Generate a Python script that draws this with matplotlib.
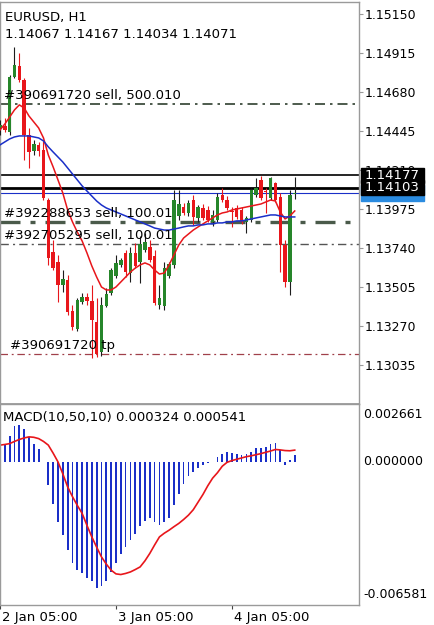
import numpy as np
import matplotlib
matplotlib.use("Agg")
import matplotlib.pyplot as plt
import matplotlib.transforms as mtransforms
from matplotlib.patches import Rectangle

# --- data (EURUSD H1) ---
symbol = "EURUSD, H1"
ohlc_text = "1.14067 1.14167 1.14034 1.14071"
macd_text = "MACD(10,50,10) 0.000324 0.000541"

opens = [1.14463, 1.14475, 1.14439, 1.14770, 1.14837, 1.14752, 1.14421, 1.14325, 1.14361, 1.14331,
         1.14029, 1.13716, 1.13656, 1.13517, 1.13547, 1.13360, 1.13252, 1.13415, 1.13445, 1.13421,
         1.13294, 1.13113, 1.13390, 1.13469, 1.13571, 1.13638, 1.13710, 1.13589, 1.13710, 1.13656,
         1.13728, 1.13746, 1.13692, 1.13396, 1.13390, 1.13571, 1.13638, 1.13933, 1.13987, 1.13951,
         1.14029, 1.13921, 1.13981, 1.13969, 1.13897, 1.13909, 1.14059, 1.14029, 1.13963, 1.13981,
         1.13969, 1.13897, 1.13909, 1.14059, 1.14150, 1.14083, 1.14041, 1.14132, 1.14047, 1.13758,
         1.13535, 1.14067]
highs = [1.14511, 1.14523, 1.14782, 1.14951, 1.14915, 1.14764, 1.14463, 1.14391, 1.14379, 1.14391,
         1.14041, 1.13788, 1.13698, 1.13607, 1.13577, 1.13396, 1.13439, 1.13469, 1.13469, 1.13517,
         1.13439, 1.13445, 1.13499, 1.13619, 1.13698, 1.13680, 1.13728, 1.13746, 1.13770, 1.13812,
         1.13830, 1.13788, 1.13728, 1.13517, 1.13656, 1.13656, 1.14089, 1.14089, 1.14011, 1.14029,
         1.14059, 1.13999, 1.14005, 1.13993, 1.13969, 1.14071, 1.14102, 1.14053, 1.13987, 1.13999,
         1.13987, 1.13933, 1.14102, 1.14162, 1.14174, 1.14102, 1.14168, 1.14138, 1.14071, 1.13788,
         1.14089, 1.14167]
lows = [1.14421, 1.14439, 1.14421, 1.14764, 1.14740, 1.14270, 1.14222, 1.14300, 1.14294, 1.14029,
        1.13638, 1.13607, 1.13415, 1.13475, 1.13336, 1.13246, 1.13240, 1.13403, 1.13396, 1.13077,
        1.13083, 1.13089, 1.13384, 1.13457, 1.13559, 1.13625, 1.13565, 1.13535, 1.13619, 1.13529,
        1.13716, 1.13656, 1.13396, 1.13372, 1.13366, 1.13559, 1.13619, 1.13909, 1.13939, 1.13933,
        1.13879, 1.13897, 1.13909, 1.13897, 1.13873, 1.13897, 1.14017, 1.13969, 1.13867, 1.13915,
        1.13885, 1.13830, 1.13897, 1.14047, 1.14029, 1.13951, 1.14029, 1.14017, 1.13595, 1.13505,
        1.13457, 1.14034]
closes = [1.14481, 1.14451, 1.14770, 1.14843, 1.14752, 1.14421, 1.14318, 1.14367, 1.14325, 1.14041,
          1.13680, 1.13619, 1.13517, 1.13553, 1.13354, 1.13264, 1.13427, 1.13445, 1.13421, 1.13306,
          1.13101, 1.13396, 1.13463, 1.13607, 1.13650, 1.13668, 1.13595, 1.13710, 1.13632, 1.13764,
          1.13776, 1.13668, 1.13409, 1.13439, 1.13619, 1.13644, 1.14029, 1.14005, 1.13951, 1.14011,
          1.13927, 1.13987, 1.13921, 1.13909, 1.13939, 1.14047, 1.14029, 1.13981, 1.13957, 1.13927,
          1.13897, 1.13921, 1.14089, 1.14102, 1.14041, 1.14077, 1.14162, 1.14029, 1.13758, 1.13535,
          1.14059, 1.14071]

ma_fast = [1.14451, 1.14487, 1.14529, 1.14572, 1.14602, 1.14584, 1.14535, 1.14499, 1.14463, 1.14403,
           1.14300, 1.14228, 1.14150, 1.14071, 1.13969, 1.13897, 1.13836, 1.13782, 1.13710, 1.13632,
           1.13565, 1.13505, 1.13487, 1.13487, 1.13505, 1.13535, 1.13565, 1.13595, 1.13619, 1.13638,
           1.13650, 1.13638, 1.13607, 1.13583, 1.13589, 1.13638, 1.13698, 1.13758, 1.13800, 1.13824,
           1.13848, 1.13867, 1.13885, 1.13903, 1.13921, 1.13939, 1.13951, 1.13957, 1.13969, 1.13975,
           1.13981, 1.13987, 1.13993, 1.13999, 1.14005, 1.14017, 1.14029, 1.14023, 1.13957, 1.13915,
           1.13933, 1.13963]
ma_slow = [1.14361, 1.14379, 1.14397, 1.14409, 1.14415, 1.14415, 1.14415, 1.14409, 1.14403, 1.14385,
           1.14349, 1.14318, 1.14288, 1.14258, 1.14222, 1.14186, 1.14150, 1.14114, 1.14083, 1.14053,
           1.14023, 1.13999, 1.13981, 1.13969, 1.13957, 1.13945, 1.13933, 1.13921, 1.13909, 1.13897,
           1.13885, 1.13873, 1.13860, 1.13854, 1.13848, 1.13848, 1.13854, 1.13860, 1.13867, 1.13873,
           1.13873, 1.13879, 1.13879, 1.13885, 1.13885, 1.13891, 1.13891, 1.13897, 1.13897, 1.13903,
           1.13903, 1.13909, 1.13915, 1.13921, 1.13927, 1.13933, 1.13939, 1.13939, 1.13933, 1.13927,
           1.13927, 1.13927]

macd_hist = [0.00060, 0.00077, 0.00118, 0.00164, 0.00170, 0.00152, 0.00115, 0.00084, 0.00057, -0.00002,
             -0.00107, -0.00192, -0.00276, -0.00334, -0.00403, -0.00464, -0.00498, -0.00513, -0.00536, -0.00548,
             -0.00582, -0.00570, -0.00547, -0.00506, -0.00464, -0.00424, -0.00391, -0.00357, -0.00330, -0.00295,
             -0.00273, -0.00260, -0.00276, -0.00290, -0.00276, -0.00260, -0.00199, -0.00146, -0.00104, -0.00066,
             -0.00046, -0.00026, -0.00015, -0.00003, -0.00002, 0.00023, 0.00038, 0.00046, 0.00043, 0.00038,
             0.00031, 0.00038, 0.00046, 0.00066, 0.00066, 0.00069, 0.00081, 0.00087, 0.00054, -0.00015,
             0.00010, 0.000324]
macd_signal = [0.00077, 0.00080, 0.00084, 0.00094, 0.00103, 0.00110, 0.00115, 0.00113, 0.00107, 0.00094,
               0.00077, 0.00040, 0.00000, -0.00055, -0.00115, -0.00160, -0.00200, -0.00237, -0.00292, -0.00345,
               -0.00392, -0.00437, -0.00470, -0.00498, -0.00515, -0.00518, -0.00513, -0.00506, -0.00495, -0.00483,
               -0.00455, -0.00421, -0.00382, -0.00345, -0.00328, -0.00314, -0.00298, -0.00283, -0.00265, -0.00245,
               -0.00220, -0.00185, -0.00150, -0.00110, -0.00075, -0.00050, -0.00020, -0.00002, 0.00006, 0.00012,
               0.00018, 0.00024, 0.00028, 0.00033, 0.00038, 0.00044, 0.00050, 0.00057, 0.00055, 0.00052,
               0.00051, 0.000541]

price_ticks = [1.15150, 1.14915, 1.14680, 1.14445, 1.14210, 1.13975, 1.13740, 1.13505, 1.13270, 1.13035]
macd_range = (-0.006581, 0.002661)
date_ticks = [0, 24, 48]
date_labels = ["2 Jan 05:00", "3 Jan 05:00", "4 Jan 05:00"]

order_levels = [1.14608, 1.13897, 1.13764, 1.13101]
order_labels = ["#390691720 sell, 500.010", "#392288653 sell, 100.01",
                "#392705295 sell, 100.01", "#390691720 tp"]
ask_levels = [1.14177, 1.14103]
bid_level = 1.14071

GREEN = "#26862a"
RED = "#e8161b"
BLUE = "#1a2fc8"
FRAME = "#9a9a9a"

plt.rcParams['font.family'] = ['DejaVu Sans']
plt.rcParams['font.size'] = 9

W, H = 434, 625
fig = plt.figure(figsize=(W / 100, H / 100), dpi=100)
ax = fig.add_axes([0.0, 1 - 404 / H, 359 / W, 402 / H])
ax2 = fig.add_axes([0.0, 1 - 605 / H, 359 / W, 201 / H], sharex=ax)

idx = np.arange(len(opens))
o, h, l, c = map(np.array, (opens, highs, lows, closes))
up = c >= o

# candles
ax.vlines(idx, l, h, colors=np.where(up, "#1c1c1c", RED), lw=0.8, zorder=3)
ax.bar(idx, np.maximum(np.abs(c - o), 0.00003), bottom=np.minimum(o, c), width=0.72,
       color=np.where(up, GREEN, RED), lw=0, zorder=4)

# moving averages
ax.plot(idx, ma_fast, color=RED, lw=1.1, zorder=5)
ax.plot(idx, ma_slow, color=BLUE, lw=1.1, zorder=5)

# price lines
ax.axhline(ask_levels[0], color="black", lw=1.2, zorder=2)
ax.axhline(ask_levels[1], color="black", lw=2.0, zorder=2)
ax.axhline(bid_level, color=BLUE, lw=0.8, zorder=2)

# order lines
dashdot = (0, (6, 3, 1.5, 3))
order_styles = [("#2f3f2f", 1.2), ("#4a5a4a", 2.4), ("#555555", 1.0), ("#a0404a", 0.9)]
for lvl, (col, lw) in zip(order_levels, order_styles):
    ax.axhline(lvl, color=col, lw=lw, ls=dashdot, zorder=2)
label_x = [0.012, 0.012, 0.012, 0.028]
for lvl, txt, lx in zip(order_levels, order_labels, label_x):
    ax.annotate(txt, (lx, lvl), xycoords=("axes fraction", "data"), xytext=(0, 1.5),
                textcoords="offset points", va="bottom", ha="left", fontsize=9.5, zorder=6)

ax.text(0.014, 1 - 15 / 402, symbol, transform=ax.transAxes, va="center", ha="left", fontsize=9.5)
ax.text(0.014, 1 - 33 / 402, ohlc_text, transform=ax.transAxes, va="center", ha="left", fontsize=9.5)

ax.set_xlim(0, 74.3)
ax.set_ylim(1.12800, 1.15222)
ax.yaxis.tick_right()
ax.set_yticks(price_ticks)
ax.set_yticklabels([f"{p:.5f}" for p in price_ticks])
ax.tick_params(axis="y", length=3, width=0.8, color=FRAME, pad=1, labelsize=9)
ax.tick_params(axis="x", bottom=False, labelbottom=False)

# price boxes on the right scale
trans = mtransforms.blended_transform_factory(ax.transAxes, ax.transData)
px = (ax.get_ylim()[1] - ax.get_ylim()[0]) / 402
ax.add_patch(Rectangle((1.006, bid_level - 8 * px), 0.175, 16 * px, transform=trans,
                       color="#2a8be0", clip_on=False, zorder=7))
for lvl in ask_levels:
    ax.add_patch(Rectangle((1.006, lvl - 7.5 * px), 0.175, 15 * px, transform=trans,
                           color="black", clip_on=False, zorder=8))
    ax.text(1.093, lvl, f"{lvl:.5f}", transform=trans, color="white", ha="center", va="center",
            fontsize=9.5, zorder=9, clip_on=False)

# MACD pane
ax2.bar(idx, macd_hist, width=0.36, color=BLUE, lw=0)
ax2.plot(idx, macd_signal, color=RED, lw=1.2)
ax2.set_ylim(*macd_range)
ax2.set_yticks([])
ax2.text(0.008, 1 - 13 / 201, macd_text, transform=ax2.transAxes, va="center", ha="left", fontsize=9.5)
for val, va, dy in [(macd_range[1], "top", -3), (0.0, "center", 0), (macd_range[0], "bottom", 3)]:
    ax2.annotate(f"{val:.6f}", (1.0, val), xycoords=("axes fraction", "data"), xytext=(3, dy),
                 textcoords="offset points", ha="left", va=va, fontsize=9, annotation_clip=False)

ax2.set_xticks(date_ticks)
ax2.set_xticklabels(date_labels, ha="left")
ax2.tick_params(axis="x", length=3, width=0.8, color="#444444", pad=1, labelsize=9.5)
for lab in ax2.get_xticklabels():
    lab.set_transform(lab.get_transform() + mtransforms.ScaledTranslation(2 / 100, 0, fig.dpi_scale_trans))

for a in (ax, ax2):
    for s in a.spines.values():
        s.set_color(FRAME)
        s.set_linewidth(1.0)
ax.spines["bottom"].set_linewidth(1.3)

fig.savefig("out.png", dpi=100, facecolor="white")
